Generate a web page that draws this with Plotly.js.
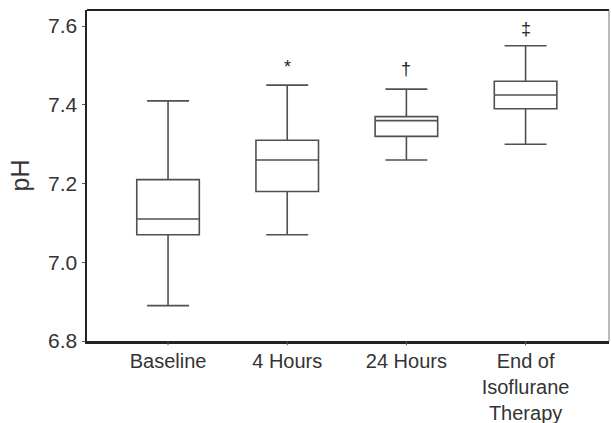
<!DOCTYPE html>
<html>
<head>
<meta charset="utf-8">
<script src="https://cdn.plot.ly/plotly-3.0.1.min.js"></script>
<style>
html,body{margin:0;padding:0;background:#fff;}
#chart{width:611px;height:423px;}
</style>
</head>
<body>
<div id="chart"></div>
<script>
// Data
const categories = ["Baseline", "4 Hours", "24 Hours", "End of<br>Isoflurane<br>Therapy"];
const lowerWhisker = [6.89, 7.07, 7.26, 7.30];
const q1Values = [7.07, 7.18, 7.32, 7.39];
const medianValues = [7.11, 7.26, 7.36, 7.425];
const q3Values = [7.21, 7.31, 7.37, 7.46];
const upperWhisker = [7.41, 7.45, 7.44, 7.55];
const markSymbols = ["", "*", "†", "‡"];
const markY = [null, 7.497, 7.49, 7.594];
const yTicks = [6.8, 7.0, 7.2, 7.4, 7.6];
const yTickLabels = ["6.8", "7.0", "7.2", "7.4", "7.6"];

const trace = {
  type: "box",
  x: categories,
  q1: q1Values,
  median: medianValues,
  q3: q3Values,
  lowerfence: lowerWhisker,
  upperfence: upperWhisker,
  fillcolor: "rgba(255,255,255,0)",
  line: {color: "#505050", width: 1.6},
  whiskerwidth: 0.67,
  boxpoints: false,
  hoverinfo: "skip",
  showlegend: false
};

const annotations = [];
categories.forEach((c, i) => {
  if (markSymbols[i]) {
    annotations.push({
      x: c, y: markY[i], xref: "x", yref: "y",
      text: markSymbols[i], showarrow: false,
      font: {family: "Liberation Sans, Arial, sans-serif", size: 18, color: "#222"}
    });
  }
});

// small tick marks below the x axis at each category
const shapes = [
  {type: "line", xref: "paper", yref: "paper", x0: 0, x1: 1, y0: 1, y1: 1,
   line: {color: "#222", width: 2}},
  {type: "line", xref: "paper", yref: "paper", x0: 1, x1: 1, y0: 0, y1: 1,
   line: {color: "#777", width: 1}}
];
categories.forEach(c => {
  shapes.push({type: "line", xref: "x", yref: "paper", x0: c, x1: c, y0: 0, y1: -0.013,
    line: {color: "#555", width: 1}});
});

const layout = {
  width: 611, height: 423,
  margin: {l: 87, r: 2, t: 10, b: 82},
  paper_bgcolor: "#fff", plot_bgcolor: "#fff",
  font: {family: "Liberation Sans, Arial, sans-serif", color: "#333"},
  boxgap: 0.25,
  xaxis: {
    type: "category",
    range: [-0.68, 3.7],
    showgrid: false, zeroline: false,
    showline: true, linecolor: "#222", linewidth: 2.5,
    ticks: "",
    tickfont: {size: 20, color: "#333"},
    fixedrange: true
  },
  yaxis: {
    range: [6.8, 7.641],
    tickvals: yTicks, ticktext: yTickLabels,
    showgrid: false, zeroline: false,
    showline: true, linecolor: "#222", linewidth: 2.5,
    ticks: "outside", ticklen: 3, tickwidth: 1, tickcolor: "#555",
    tickfont: {size: 21, color: "#333"},
    title: {text: "pH", font: {size: 25, color: "#333"}, standoff: 12},
    fixedrange: true
  },
  shapes: shapes,
  annotations: annotations
};

Plotly.newPlot("chart", [trace], layout, {displayModeBar: false, staticPlot: true});
</script>
</body>
</html>
